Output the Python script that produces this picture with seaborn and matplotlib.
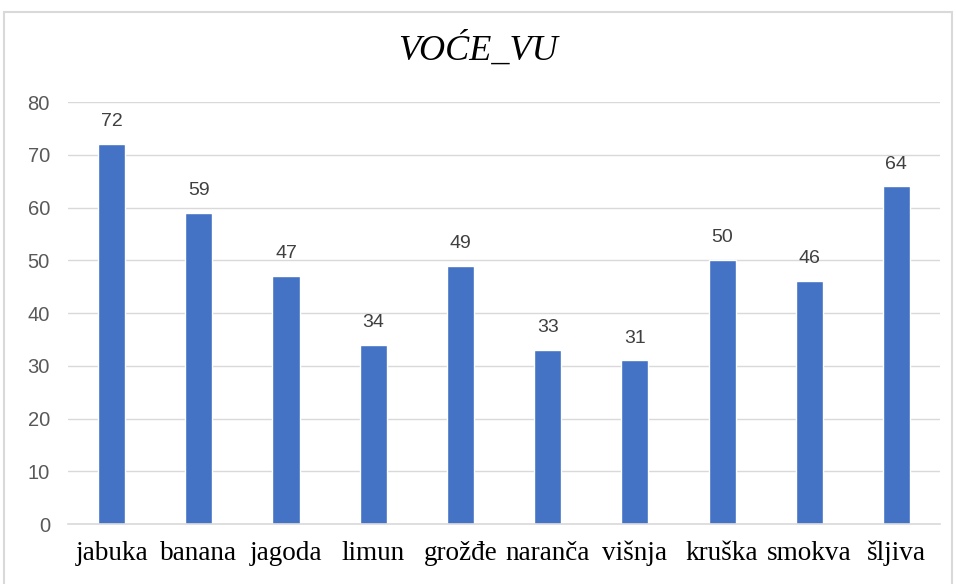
import seaborn as sns
import matplotlib.pyplot as plt
import pandas as pd
from matplotlib.patches import Rectangle

fruits = ['jabuka', 'banana', 'jagoda', 'limun', 'grožđe', 'naranča',
          'višnja', 'kruška', 'smokva', 'šljiva']
counts = [72, 59, 47, 34, 49, 33, 31, 50, 46, 64]
yticks = [0, 10, 20, 30, 40, 50, 60, 70, 80]

df = pd.DataFrame({'voce': fruits, 'broj': counts})

sns.set_style('white')
fig = plt.figure(figsize=(9.56, 5.84), dpi=100)
ax = fig.add_axes([0.0711, 0.1027, 0.9122, 0.7226])

sns.barplot(data=df, x='voce', y='broj', color='#4472C4', saturation=1,
            width=0.31, ax=ax)

ax.set_ylim(0, 80)
ax.set_xlim(-0.5, len(fruits) - 0.5)
ax.set_yticks(yticks)
ax.set_yticklabels([str(v) for v in yticks], fontsize=14.5, color='#595959',
                   family='Liberation Sans')
ax.set_xticks(range(len(fruits)))
ax.set_xticklabels(fruits, fontsize=19.5, color='black', family='Liberation Serif')
ax.tick_params(axis='both', length=0)
ax.tick_params(axis='y', pad=13)
ax.tick_params(axis='x', pad=12)
ax.set_xlabel('')
ax.set_ylabel('')
ax.grid(axis='y', color='#D9D9D9', linewidth=1)
ax.set_axisbelow(True)
for s in ['top', 'right', 'left']:
    ax.spines[s].set_visible(False)
ax.spines['bottom'].set_color('#D9D9D9')
ax.spines['bottom'].set_linewidth(1.2)

for i, v in enumerate(counts):
    ax.annotate(str(v), (i, v), xytext=(0, 10), textcoords='offset points',
                ha='center', va='bottom', fontsize=14, color='#404040',
                family='Liberation Sans')

fig.text(0.5, 0.915, 'VOĆE_VU', ha='center', va='center', fontsize=26,
         style='italic', family='Liberation Serif', color='black')

fig.patches.append(Rectangle((4 / 956, -0.01), 948 / 956, 1 - 12 / 584 + 0.01,
                             transform=fig.transFigure, fill=False,
                             edgecolor='#D9D9D9', linewidth=1.5))

fig.savefig('out.png', dpi=100)
